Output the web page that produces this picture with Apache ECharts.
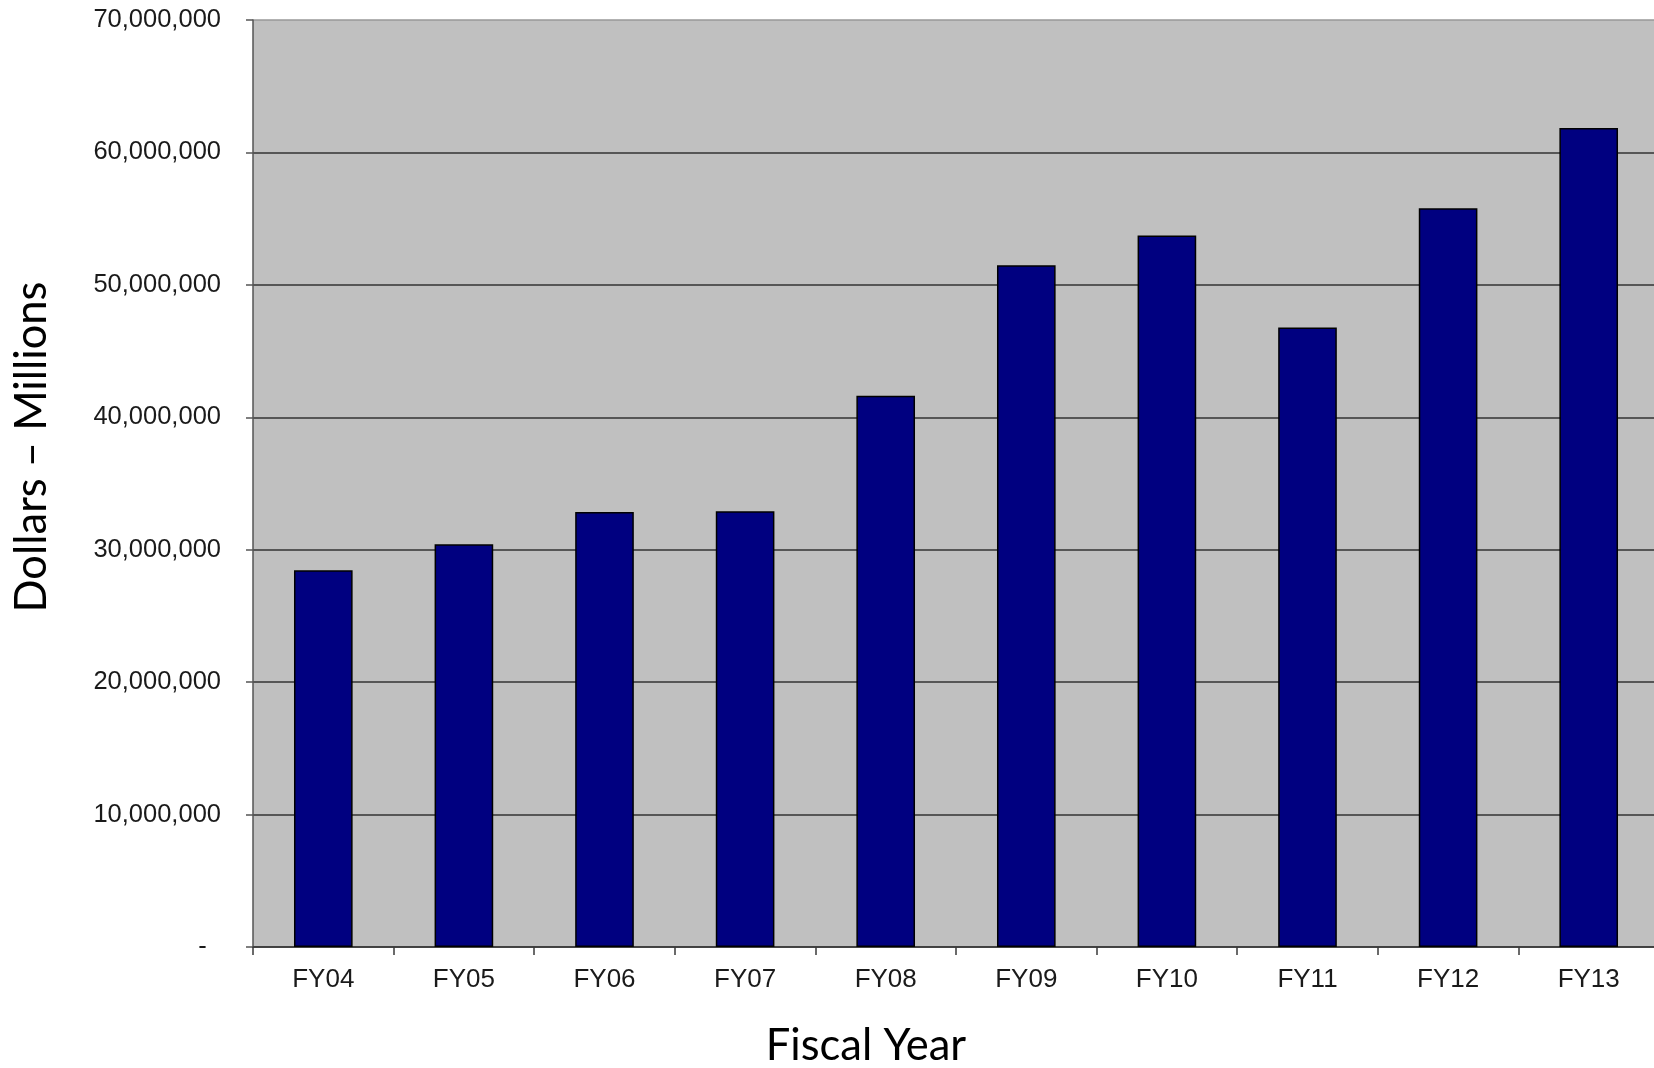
<!DOCTYPE html>
<html>
<head>
<meta charset="utf-8">
<script src="https://cdn.jsdelivr.net/npm/echarts@6/dist/echarts.min.js"></script>
<style>
  html, body { margin: 0; padding: 0; background: #ffffff; }
  #chart { width: 1654px; height: 1068px; }
</style>
</head>
<body>
<div id="chart"></div>
<script>
// Fiscal years on the category axis
const fiscalYears = ['FY04', 'FY05', 'FY06', 'FY07', 'FY08', 'FY09', 'FY10', 'FY11', 'FY12', 'FY13'];
// Annual dollar totals per fiscal year
const dollars = [28450000, 30420000, 32850000, 32910000, 41620000, 51490000, 53730000, 46780000, 55790000, 61840000];
// Value axis range and step
const yMin = 0;
const yMax = 70000000;
const yStep = 10000000;

const chart = echarts.init(document.getElementById('chart'));

// Accounting-style labels: thousands separators, a dash for zero
function fmtDollars(v) {
  if (v === 0) return '-\u00a0\u00a0';
  return v.toString().replace(/\B(?=(\d{3})+(?!\d))/g, ',');
}

const titleFont = 'Lato, sans-serif';

chart.setOption({
  animation: false,
  backgroundColor: '#ffffff',
  grid: {
    left: 253, right: -5, top: 20, bottom: 121,
    containLabel: false,
    outerBoundsMode: 'none',
    show: true,
    backgroundColor: '#c0c0c0',
    borderWidth: 0
  },
  graphic: [
    {
      type: 'text',
      x: 32, y: 447,
      rotation: Math.PI / 2,
      style: {
        text: 'Dollars \u2013 Millions',
        font: '43.5px ' + titleFont,
        fill: '#000000',
        align: 'center',
        verticalAlign: 'middle'
      }
    },
    {
      type: 'text',
      x: 866, y: 1046,
      style: {
        text: 'Fiscal Year',
        font: '43.5px ' + titleFont,
        fill: '#000000',
        align: 'center',
        verticalAlign: 'middle'
      }
    }
  ],
  xAxis: {
    type: 'category',
    data: fiscalYears,
    axisLine: { show: true, lineStyle: { color: '#3a3a3a', width: 1.5 } },
    axisTick: { show: true, alignWithLabel: false, length: 8, lineStyle: { color: '#3a3a3a', width: 1.5 } },
    axisLabel: {
      margin: 20,
      fontFamily: 'Liberation Sans, Arial, sans-serif',
      fontSize: 26,
      color: '#1a1a1a'
    }
  },
  yAxis: {
    type: 'value',
    min: yMin,
    max: yMax,
    interval: yStep,
    axisLine: { show: true, lineStyle: { color: '#555555', width: 1.5 } },
    axisTick: { show: true, inside: false, length: 7, lineStyle: { color: '#555555', width: 1.5 } },
    splitLine: {
      show: true,
      lineStyle: {
        color: ['#333333', '#333333', '#333333', '#333333', '#333333', '#333333', '#333333', '#999999'],
        width: 1.5
      }
    },
    axisLabel: {
      margin: 32,
      formatter: fmtDollars,
      fontFamily: 'Liberation Sans, Arial, sans-serif',
      fontSize: 25.5,
      color: '#1a1a1a'
    }
  },
  series: [{
    type: 'bar',
    data: dollars,
    barWidth: '41.7%',
    itemStyle: {
      color: '#000080',
      borderColor: '#000000',
      borderWidth: 1.5
    }
  }]
});
</script>
</body>
</html>
